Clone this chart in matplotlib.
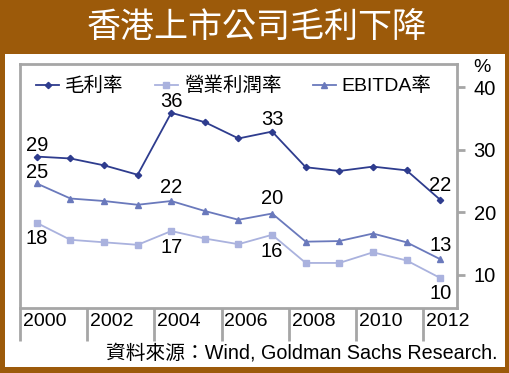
import matplotlib
matplotlib.use("Agg")
import matplotlib.pyplot as plt
from matplotlib.patches import Rectangle
import matplotlib.transforms as mtransforms

plt.rcParams['font.family'] = ['Liberation Sans', 'Noto Sans CJK TC', 'DejaVu Sans']

years = [2000, 2001, 2002, 2003, 2004, 2005, 2006, 2007, 2008, 2009, 2010, 2011, 2012]
gross = [28.9, 28.6, 27.5, 26.0, 35.9, 34.4, 31.8, 32.9, 27.2, 26.6, 27.3, 26.7, 22.0]
operating = [18.3, 15.6, 15.2, 14.8, 17.0, 15.8, 14.9, 16.4, 11.9, 11.9, 13.6, 12.3, 9.5]
ebitda = [24.6, 22.2, 21.8, 21.2, 21.8, 20.2, 18.8, 19.8, 15.3, 15.4, 16.6, 15.2, 12.5]
xtick_labels = ['2000', '2002', '2004', '2006', '2008', '2010', '2012']
yticks = [10, 20, 30, 40]
series_names = ['毛利率', '營業利潤率', 'EBITDA率']
title = '香港上市公司毛利下降'
source = '資料來源：Wind, Goldman Sachs Research.'

W, H = 510, 373
fig = plt.figure(figsize=(W / 100, H / 100), dpi=100)
fig.patch.set_facecolor('#9C5A0A')
fig.patches.append(Rectangle((5 / W, 1 - 367 / H), 500 / W, 313 / H,
                             transform=fig.transFigure, facecolor='white',
                             edgecolor='none', zorder=-10))

fig.text(257 / W, 1 - 28 / H, title, color='white', fontsize=24.5,
         family=['Noto Sans CJK TC'], ha='center', va='center')

ax = fig.add_axes([20 / W, 1 - 308 / H, 437 / W, 244 / H])
ax.set_zorder(5)
ax.patch.set_alpha(0)
ax.set_xlim(1999.5, 2012.5)
ax.set_ylim(4.7, 43.7)

c_gross = '#2E3C8E'
c_oper = '#AAB2DE'
c_ebit = '#6A79BC'

ax.plot(years, gross, color=c_gross, lw=1.3, marker='D', ms=3.2, label=series_names[0], zorder=4)
ax.plot(years, operating, color=c_oper, lw=1.3, marker='s', ms=4, label=series_names[1], zorder=3)
ax.plot(years, ebitda, color=c_ebit, lw=1.3, marker='^', ms=4, label=series_names[2], zorder=3)

gray = '#A6A6A6'
for s in ['top', 'left', 'right', 'bottom']:
    ax.spines[s].set_color(gray)
    ax.spines[s].set_linewidth(2)

ax.yaxis.tick_right()
ax.set_yticks(yticks)
ax.set_yticklabels([str(v) for v in yticks], fontsize=14.5)
ax.tick_params(axis='y', length=6, width=2, color=gray, pad=6)

seps = [y - 0.5 for y in years[::2]]
ax.set_xticks(seps)
ax.set_xticklabels([])
ax.tick_params(axis='x', length=24, width=2, color=gray, direction='out')

trans = mtransforms.blended_transform_factory(ax.transData, fig.transFigure)
for sx, lab in zip(seps, xtick_labels):
    ax.text(sx + 0.08, 1 - 322 / H, lab, transform=trans, fontsize=14,
            ha='left', va='center', clip_on=False)

fig.text(482 / W, 1 - 68 / H, '%', fontsize=14, ha='center', va='center')

# data labels (offsets in points)
def lab(x, y, txt, dy):
    ax.annotate(txt, (x, y), xytext=(0, dy), textcoords='offset points',
                ha='center', va='center', fontsize=14.5)

lab(2000, gross[0], '29', 8)
lab(2004, gross[4], '36', 8)
lab(2007, gross[7], '33', 9)
lab(2012, gross[12], '22', 10)
lab(2000, ebitda[0], '25', 8)
lab(2004, ebitda[4], '22', 10)
lab(2007, ebitda[7], '20', 11)
lab(2012, ebitda[12], '13', 10)
lab(2000, operating[0], '18', -11)
lab(2004, operating[4], '17', -12)
lab(2007, operating[7], '16', -12)
lab(2012, operating[12], '10', -11)

leg = ax.legend(loc='upper left', ncol=3, frameon=False, fontsize=14,
                bbox_to_anchor=(0.01, 0.995), handlelength=1.2, handletextpad=0.3,
                columnspacing=1.6, borderaxespad=0.2)

fig.text(498 / W, 1 - 353 / H, source, fontsize=14.2, ha='right', va='center')

fig.savefig('out.png', dpi=100, facecolor=fig.get_facecolor())
